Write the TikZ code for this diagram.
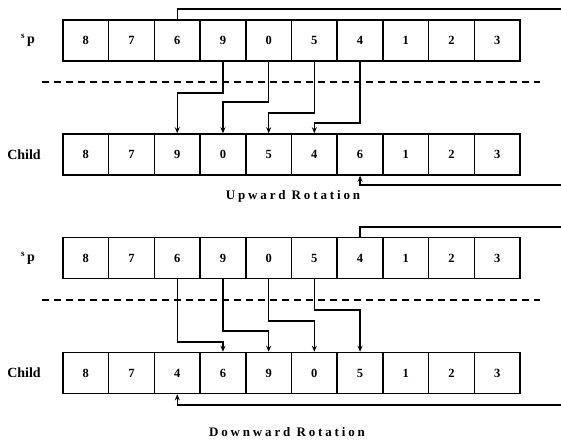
\documentclass[tikz,border=0pt]{standalone}
\usepackage{fontspec}
\setmainfont{Liberation Serif}
\usetikzlibrary{arrows.meta}
\begin{document}
\begin{tikzpicture}[x=1pt,y=-1pt,
  cell/.style={draw,line width=1.5pt,minimum width=45.7pt,minimum height=41pt,inner sep=0pt,font=\fontsize{12.5}{14}\selectfont\bfseries},
  conn/.style={line width=1.3pt},
  arr/.style={line width=1.3pt,-{Stealth[length=6pt,width=5pt]}},
  sep/.style={line width=1.1pt,dash pattern=on 7pt off 5pt},
  lbl/.style={font=\fontsize{14}{16}\selectfont\bfseries},
  captxt/.style={font=\fontsize{13}{15}\selectfont\bfseries\addfontfeature{LetterSpace=22}}]
\path[use as bounding box] (0,0) rectangle (561,441);
% rows
\foreach \v [count=\i] in {8,7,6,9,0,5,4,1,2,3}
  \node[cell] (tu\i) at (63+45.7*\i-22.85,40.5) {\v};
\foreach \v [count=\i] in {8,7,9,0,5,4,6,1,2,3}
  \node[cell] (cu\i) at (63+45.7*\i-22.85,154.5) {\v};
\foreach \v [count=\i] in {8,7,6,9,0,5,4,1,2,3}
  \node[cell] (td\i) at (63+45.7*\i-22.85,258) {\v};
\foreach \v [count=\i] in {8,7,4,6,9,0,5,1,2,3}
  \node[cell] (cd\i) at (63+45.7*\i-22.85,373) {\v};
% labels
\node[lbl] (sp1) at (28,40) {\raisebox{5pt}{\fontsize{9}{10}\selectfont s}\,p};
\node[lbl] (ch1) at (24,155) {Child};
\node[lbl] (sp2) at (28,258) {\raisebox{5pt}{\fontsize{9}{10}\selectfont s}\,p};
\node[lbl] (ch2) at (24,373) {Child};
\node[captxt] (up) at (293,196) {Upward Rotation};
\node[captxt] (down) at (287,432) {Downward Rotation};
% dashed separators
\coordinate (d1a) at (42,82); \coordinate (d1b) at (540,82);
\coordinate (d2a) at (42,300); \coordinate (d2b) at (540,300);
\draw[sep] (d1a) -- (d1b);
\draw[sep] (d2a) -- (d2b);
% upward rotation connectors
\coordinate (ur1) at (561,9);
\coordinate (ur2) at (561,185);
\draw[conn] (tu3.north) |- (ur1);
\draw[arr] (ur2) -| (cu7.south);
\draw[arr] (tu4.south) -- (tu4.south |- 0,93) -- (cu3.north |- 0,93) -- (cu3.north);
\draw[arr] (tu5.south) -- (tu5.south |- 0,102) -- (cu4.north |- 0,102) -- (cu4.north);
\draw[arr] (tu6.south) -- (tu6.south |- 0,113) -- (cu5.north |- 0,113) -- (cu5.north);
\draw[arr] (tu7.south) -- (tu7.south |- 0,123) -- (cu6.north |- 0,123) -- (cu6.north);
% downward rotation connectors
\coordinate (dr1) at (561,227);
\coordinate (dr2) at (561,405);
\draw[conn] (td7.north) |- (dr1);
\draw[arr] (dr2) -| (cd3.south);
\draw[arr] (td3.south) -- (td3.south |- 0,342) -- (cd4.north |- 0,342) -- (cd4.north);
\draw[arr] (td4.south) -- (td4.south |- 0,331) -- (cd5.north |- 0,331) -- (cd5.north);
\draw[arr] (td5.south) -- (td5.south |- 0,321) -- (cd6.north |- 0,321) -- (cd6.north);
\draw[arr] (td6.south) -- (td6.south |- 0,310) -- (cd7.north |- 0,310) -- (cd7.north);
\end{tikzpicture}
\end{document}
